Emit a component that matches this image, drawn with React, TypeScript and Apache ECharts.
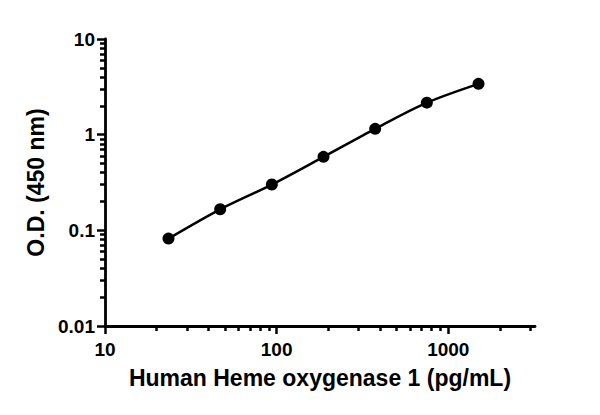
import React, { useEffect, useRef } from 'react';
import * as echarts from 'echarts';

// concentrations (pg/mL) and O.D. at 450 nm
const concentrations = [23.4375, 46.875, 93.75, 187.5, 375, 750, 1500];
const odValues = [0.082, 0.166, 0.301, 0.586, 1.15, 2.16, 3.4];

const xMajorTicks = [10, 100, 1000];
const xMinorTicks = [20, 30, 40, 50, 60, 70, 80, 90, 200, 300, 400, 500, 600, 700, 800, 900, 2000, 3000];
const yMajorTicks = [0.01, 0.1, 1, 10];
const yMinorTicks = [
  0.02, 0.03, 0.04, 0.05, 0.06, 0.07, 0.08, 0.09,
  0.2, 0.3, 0.4, 0.5, 0.6, 0.7, 0.8, 0.9,
  2, 3, 4, 5, 6, 7, 8, 9,
];

const FONT = '"Liberation Sans", Arial, sans-serif';

const App: React.FC = () => {
  const chartRef = useRef<HTMLDivElement>(null);

  useEffect(() => {
    if (!chartRef.current) return;
    const chart = echarts.init(chartRef.current, undefined, { renderer: 'svg' });

    const labelStyle = { color: '#000', fontFamily: FONT, fontWeight: 'bold' as const, fontSize: 19 };
    const nameStyle = { color: '#000', fontFamily: FONT, fontWeight: 'bold' as const, fontSize: 23 };
    const plain = (v: number) => String(v);

    chart.setOption({
      animation: false,
      backgroundColor: '#fff',
      grid: { left: 105, right: 65, top: 39, bottom: 89 },
      xAxis: [
        {
          type: 'log',
          logBase: 10,
          min: 10,
          max: 3200,
          position: 'bottom',
          name: 'Human Heme oxygenase 1 (pg/mL)',
          nameLocation: 'middle',
          nameGap: 40,
          nameTextStyle: nameStyle,
          axisLine: { lineStyle: { color: '#000', width: 2.8 } },
          axisTick: { customValues: xMajorTicks, length: 8, lineStyle: { color: '#000', width: 2.5 } },
          axisLabel: { customValues: xMajorTicks, margin: 14, formatter: plain, ...labelStyle },
          splitLine: { show: false },
        },
        {
          type: 'log',
          logBase: 10,
          min: 10,
          max: 3200,
          position: 'bottom',
          axisLine: { show: false },
          axisTick: { customValues: xMinorTicks, length: 5, lineStyle: { color: '#000', width: 2.5 } },
          axisLabel: { show: false },
          splitLine: { show: false },
        },
      ],
      yAxis: [
        {
          type: 'log',
          logBase: 10,
          min: 0.01,
          max: 10,
          position: 'left',
          name: 'O.D. (450 nm)',
          nameLocation: 'middle',
          nameGap: 57,
          nameTextStyle: nameStyle,
          axisLine: { show: true, lineStyle: { color: '#000', width: 2.8 } },
          axisTick: { show: true, customValues: yMajorTicks, length: 8, lineStyle: { color: '#000', width: 2.5 } },
          axisLabel: { customValues: yMajorTicks, margin: 10, formatter: plain, ...labelStyle },
          splitLine: { show: false },
        },
        {
          type: 'log',
          logBase: 10,
          min: 0.01,
          max: 10,
          position: 'left',
          axisLine: { show: false },
          axisTick: { show: true, customValues: yMinorTicks, length: 5, lineStyle: { color: '#000', width: 2.5 } },
          axisLabel: { show: false },
          splitLine: { show: false },
        },
      ],
      series: [
        {
          type: 'line',
          xAxisIndex: 0,
          yAxisIndex: 0,
          data: concentrations.map((c, i) => [c, odValues[i]]),
          smooth: 0.3,
          symbol: 'circle',
          symbolSize: 12,
          itemStyle: { color: '#000' },
          lineStyle: { color: '#000', width: 2.5 },
        },
      ],
    });

    return () => {
      chart.dispose();
    };
  }, []);

  return (
    <div
      ref={chartRef}
      style={{ position: 'fixed', left: 0, top: 0, width: 600, height: 415, background: '#fff' }}
    />
  );
};

export default App;
